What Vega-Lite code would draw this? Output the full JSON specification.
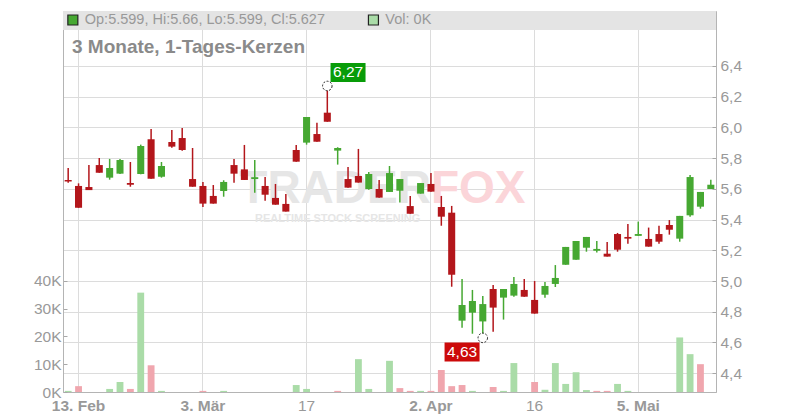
{
  "$schema": "https://vega.github.io/schema/vega-lite/v6.json",
  "width": 653,
  "height": 381,
  "autosize": {"type": "none"},
  "padding": {"left": 63, "top": 11, "right": 84, "bottom": 28},
  "background": "white",
  "config": {
    "view": {"stroke": "#c8c8c8", "strokeWidth": 1},
    "axis": {"labelFont": "Liberation Sans", "labelColor": "#999999", "labelFontSize": 15.5, "gridColor": "#dcdcdc", "gridWidth": 1, "domainColor": "#b4b4b4", "tickColor": "#a8a8a8", "labelOverlap": false, "labelBound": false},
    "text": {"font": "Liberation Sans"}
  },
  "datasets": {
    "ohlc": [
      {"date": "2025-02-12", "open": 5.658, "high": 5.736, "low": 5.640, "close": 5.648, "volume": 400},
      {"date": "2025-02-13", "open": 5.619, "high": 5.636, "low": 5.477, "close": 5.477, "volume": 2100},
      {"date": "2025-02-14", "open": 5.612, "high": 5.755, "low": 5.592, "close": 5.592, "volume": 0},
      {"date": "2025-02-17", "open": 5.755, "high": 5.801, "low": 5.705, "close": 5.705, "volume": 0},
      {"date": "2025-02-18", "open": 5.673, "high": 5.795, "low": 5.660, "close": 5.736, "volume": 1100},
      {"date": "2025-02-19", "open": 5.699, "high": 5.795, "low": 5.697, "close": 5.788, "volume": 3600},
      {"date": "2025-02-20", "open": 5.638, "high": 5.775, "low": 5.614, "close": 5.627, "volume": 1100},
      {"date": "2025-02-21", "open": 5.697, "high": 5.888, "low": 5.695, "close": 5.879, "volume": 35700},
      {"date": "2025-02-24", "open": 5.923, "high": 5.990, "low": 5.666, "close": 5.666, "volume": 9600},
      {"date": "2025-02-25", "open": 5.679, "high": 5.775, "low": 5.673, "close": 5.749, "volume": 400},
      {"date": "2025-02-26", "open": 5.905, "high": 5.983, "low": 5.868, "close": 5.875, "volume": 0},
      {"date": "2025-02-27", "open": 5.931, "high": 5.996, "low": 5.849, "close": 5.853, "volume": 0},
      {"date": "2025-02-28", "open": 5.664, "high": 5.866, "low": 5.614, "close": 5.614, "volume": 0},
      {"date": "2025-03-03", "open": 5.619, "high": 5.645, "low": 5.482, "close": 5.504, "volume": 400},
      {"date": "2025-03-04", "open": 5.554, "high": 5.625, "low": 5.504, "close": 5.504, "volume": 0},
      {"date": "2025-03-05", "open": 5.586, "high": 5.656, "low": 5.549, "close": 5.645, "volume": 400},
      {"date": "2025-03-06", "open": 5.755, "high": 5.795, "low": 5.640, "close": 5.699, "volume": 0},
      {"date": "2025-03-07", "open": 5.727, "high": 5.886, "low": 5.658, "close": 5.658, "volume": 0},
      {"date": "2025-03-10", "open": 5.664, "high": 5.788, "low": 5.575, "close": 5.676, "volume": 0},
      {"date": "2025-03-11", "open": 5.619, "high": 5.677, "low": 5.523, "close": 5.562, "volume": 0},
      {"date": "2025-03-12", "open": 5.541, "high": 5.632, "low": 5.497, "close": 5.497, "volume": 0},
      {"date": "2025-03-13", "open": 5.502, "high": 5.567, "low": 5.452, "close": 5.452, "volume": 0},
      {"date": "2025-03-14", "open": 5.853, "high": 5.886, "low": 5.777, "close": 5.777, "volume": 2500},
      {"date": "2025-03-17", "open": 5.901, "high": 6.068, "low": 5.888, "close": 6.068, "volume": 1100},
      {"date": "2025-03-18", "open": 5.957, "high": 6.031, "low": 5.907, "close": 5.907, "volume": 0},
      {"date": "2025-03-19", "open": 6.096, "high": 6.270, "low": 6.037, "close": 6.037, "volume": 0},
      {"date": "2025-03-20", "open": 5.849, "high": 5.871, "low": 5.758, "close": 5.866, "volume": 400},
      {"date": "2025-03-21", "open": 5.664, "high": 5.742, "low": 5.608, "close": 5.608, "volume": 0},
      {"date": "2025-03-24", "open": 5.684, "high": 5.860, "low": 5.641, "close": 5.641, "volume": 11800},
      {"date": "2025-03-25", "open": 5.599, "high": 5.710, "low": 5.595, "close": 5.697, "volume": 1100},
      {"date": "2025-03-26", "open": 5.599, "high": 5.658, "low": 5.543, "close": 5.543, "volume": 0},
      {"date": "2025-03-27", "open": 5.580, "high": 5.749, "low": 5.580, "close": 5.703, "volume": 11200},
      {"date": "2025-03-28", "open": 5.588, "high": 5.664, "low": 5.512, "close": 5.664, "volume": 1400},
      {"date": "2025-03-31", "open": 5.488, "high": 5.554, "low": 5.438, "close": 5.438, "volume": 400},
      {"date": "2025-04-01", "open": 5.569, "high": 5.638, "low": 5.569, "close": 5.638, "volume": 400},
      {"date": "2025-04-02", "open": 5.632, "high": 5.703, "low": 5.582, "close": 5.582, "volume": 400},
      {"date": "2025-04-03", "open": 5.482, "high": 5.554, "low": 5.360, "close": 5.419, "volume": 7900},
      {"date": "2025-04-04", "open": 5.445, "high": 5.489, "low": 4.963, "close": 5.041, "volume": 2100},
      {"date": "2025-04-07", "open": 4.742, "high": 5.013, "low": 4.696, "close": 4.844, "volume": 2500},
      {"date": "2025-04-08", "open": 4.794, "high": 4.942, "low": 4.657, "close": 4.870, "volume": 400},
      {"date": "2025-04-09", "open": 4.737, "high": 4.903, "low": 4.630, "close": 4.850, "volume": 0},
      {"date": "2025-04-10", "open": 4.948, "high": 4.974, "low": 4.670, "close": 4.827, "volume": 1800},
      {"date": "2025-04-11", "open": 4.892, "high": 4.948, "low": 4.749, "close": 4.948, "volume": 400},
      {"date": "2025-04-14", "open": 4.905, "high": 5.026, "low": 4.898, "close": 4.981, "volume": 10400},
      {"date": "2025-04-15", "open": 4.942, "high": 5.013, "low": 4.898, "close": 4.898, "volume": 0},
      {"date": "2025-04-16", "open": 4.877, "high": 5.000, "low": 4.788, "close": 4.788, "volume": 3600},
      {"date": "2025-04-17", "open": 4.911, "high": 4.994, "low": 4.892, "close": 4.968, "volume": 800},
      {"date": "2025-04-22", "open": 4.981, "high": 5.104, "low": 4.961, "close": 5.020, "volume": 10400},
      {"date": "2025-04-23", "open": 5.106, "high": 5.222, "low": 5.106, "close": 5.222, "volume": 2900},
      {"date": "2025-04-24", "open": 5.139, "high": 5.261, "low": 5.139, "close": 5.261, "volume": 7100},
      {"date": "2025-04-25", "open": 5.217, "high": 5.287, "low": 5.191, "close": 5.287, "volume": 700},
      {"date": "2025-04-28", "open": 5.197, "high": 5.261, "low": 5.185, "close": 5.209, "volume": 400},
      {"date": "2025-04-29", "open": 5.178, "high": 5.254, "low": 5.159, "close": 5.159, "volume": 400},
      {"date": "2025-04-30", "open": 5.306, "high": 5.313, "low": 5.191, "close": 5.204, "volume": 2900},
      {"date": "2025-05-02", "open": 5.287, "high": 5.371, "low": 5.243, "close": 5.276, "volume": 400},
      {"date": "2025-05-05", "open": 5.294, "high": 5.387, "low": 5.294, "close": 5.306, "volume": 0},
      {"date": "2025-05-06", "open": 5.274, "high": 5.348, "low": 5.224, "close": 5.224, "volume": 0},
      {"date": "2025-05-07", "open": 5.306, "high": 5.360, "low": 5.243, "close": 5.256, "volume": 0},
      {"date": "2025-05-08", "open": 5.365, "high": 5.397, "low": 5.302, "close": 5.334, "volume": 0},
      {"date": "2025-05-09", "open": 5.276, "high": 5.424, "low": 5.256, "close": 5.424, "volume": 19600},
      {"date": "2025-05-12", "open": 5.428, "high": 5.690, "low": 5.419, "close": 5.677, "volume": 13600},
      {"date": "2025-05-13", "open": 5.484, "high": 5.580, "low": 5.471, "close": 5.580, "volume": 10000},
      {"date": "2025-05-14", "open": 5.599, "high": 5.660, "low": 5.599, "close": 5.627, "volume": 0}
    ]
  },
  "layer": [
    {
      "data": {"name": "ohlc"},
      "transform": [{"window": [{"op": "lag", "field": "close", "as": "prev"}]}],
      "mark": {"type": "bar", "width": {"band": 0.66}},
      "encoding": {
        "x": {
          "field": "date", "type": "ordinal", "title": null,
          "scale": {"paddingInner": 0, "paddingOuter": 0},
          "axis": {
            "values": ["2025-02-13", "2025-03-03", "2025-03-17", "2025-04-02", "2025-04-16", "2025-05-05"],
            "labelExpr": "datum.value == '2025-02-13' ? '13. Feb' : datum.value == '2025-03-03' ? '3. Mär' : datum.value == '2025-03-17' ? '17' : datum.value == '2025-04-02' ? '2. Apr' : datum.value == '2025-04-16' ? '16' : '5. Mai'",
            "grid": true, "ticks": false, "labelPadding": 6, "labelAngle": 0, "labelAlign": "center", "labelBaseline": "top", "labelOverlap": false,
            "labelFontWeight": {"condition": {"test": "datum.value == '2025-03-17' || datum.value == '2025-04-16'", "value": "normal"}, "value": "bold"}
          }
        },
        "y": {
          "field": "volume", "type": "quantitative", "title": null,
          "scale": {"domain": [0, 136900], "nice": false},
          "axis": {"orient": "left", "values": [0, 10000, 20000, 30000, 40000], "tickCount": 20, "labelExpr": "format(datum.value / 1000, 'd') + 'K'", "grid": false, "tickSize": -4, "labelPadding": 6, "labelOverlap": false}
        },
        "color": {"condition": {"test": "datum.prev == null || datum.close >= datum.prev", "value": "#aadca8"}, "value": "#f0a6ae"}
      }
    },
    {
      "layer": [
        {
          "data": {"values": [{"top": 6.758, "bottom": 6.634}]},
          "mark": {"type": "rect", "color": "#e4e4e4"},
          "encoding": {
            "y": {"field": "bottom", "type": "quantitative", "title": null, "scale": {"domain": [4.2776, 6.758], "nice": false, "zero": false},
              "axis": {"orient": "right", "values": [4.4, 4.6, 4.8, 5.0, 5.2, 5.4, 5.6, 5.8, 6.0, 6.2, 6.4], "tickCount": 30, "labelExpr": "replace(format(datum.value, '.1f'), '.', ',')", "grid": true, "tickSize": -4, "labelPadding": 8, "labelOverlap": false}},
            "y2": {"field": "top"}
          }
        },
        {
          "data": {"values": [{"date": "2025-04-02", "price": 5.60, "word": "TRADER"}]},
          "mark": {"type": "text", "align": "right", "baseline": "middle", "fontSize": 46, "fontWeight": "bold", "color": "#e6e6e6"},
          "encoding": {
            "x": {"field": "date", "type": "ordinal", "title": null},
            "y": {"field": "price", "type": "quantitative", "title": null, "scale": {"domain": [4.2776, 6.758], "nice": false, "zero": false}},
            "text": {"field": "word"}
          }
        },
        {
          "data": {"values": [{"date": "2025-04-02", "price": 5.60, "word": "FOX"}]},
          "mark": {"type": "text", "align": "left", "baseline": "middle", "fontSize": 46, "fontWeight": "bold", "color": "#fbd5d9"},
          "encoding": {
            "x": {"field": "date", "type": "ordinal", "title": null},
            "y": {"field": "price", "type": "quantitative", "title": null, "scale": {"domain": [4.2776, 6.758], "nice": false, "zero": false}},
            "text": {"field": "word"}
          }
        },
        {
          "data": {"values": [{"date": "2025-03-20", "price": 5.405, "word": "REALTIME STOCK SCREENING"}]},
          "mark": {"type": "text", "align": "center", "baseline": "middle", "fontSize": 11, "fontWeight": "bold", "color": "#e6e6e6"},
          "encoding": {
            "x": {"field": "date", "type": "ordinal", "title": null},
            "y": {"field": "price", "type": "quantitative", "title": null, "scale": {"domain": [4.2776, 6.758], "nice": false, "zero": false}},
            "text": {"field": "word"}
          }
        },
        {
          "data": {"name": "ohlc"},
          "mark": {"type": "rule", "strokeWidth": 1.5},
          "encoding": {
            "x": {"field": "date", "type": "ordinal", "title": null},
            "y": {"field": "low", "type": "quantitative", "title": null, "scale": {"domain": [4.2776, 6.758], "nice": false, "zero": false}},
            "y2": {"field": "high"},
            "color": {"condition": {"test": "datum.close >= datum.open", "value": "#46a832"}, "value": "#b3161b"}
          }
        },
        {
          "data": {"name": "ohlc"},
          "mark": {"type": "bar", "width": {"band": 0.68}},
          "encoding": {
            "x": {"field": "date", "type": "ordinal", "title": null},
            "y": {"field": "open", "type": "quantitative", "title": null, "scale": {"domain": [4.2776, 6.758], "nice": false, "zero": false}},
            "y2": {"field": "close"},
            "color": {"condition": {"test": "datum.close >= datum.open", "value": "#46a832"}, "value": "#b3161b"}
          }
        },
        {
          "data": {"values": [{"date": "2025-03-19", "price": 6.27}, {"date": "2025-04-09", "price": 4.63}]},
          "mark": {"type": "point", "shape": "circle", "size": 90, "filled": false, "fill": "white", "fillOpacity": 1, "stroke": "#222222", "strokeWidth": 1, "strokeDash": [2, 1.5], "opacity": 1},
          "encoding": {
            "x": {"field": "date", "type": "ordinal", "title": null},
            "y": {"field": "price", "type": "quantitative", "title": null, "scale": {"domain": [4.2776, 6.758], "nice": false, "zero": false}}
          }
        },
        {
          "data": {"values": [{"date": "2025-03-21", "price": 6.358, "label": "6,27", "kind": "high"}, {"date": "2025-04-07", "price": 4.538, "label": "4,63", "kind": "low"}]},
          "mark": {"type": "point", "shape": "M-1,-0.54H1V0.54H-1Z", "size": 1225, "filled": true, "opacity": 1, "strokeWidth": 0},
          "encoding": {
            "x": {"field": "date", "type": "ordinal", "title": null, "bandPosition": 0.5},
            "y": {"field": "price", "type": "quantitative", "title": null, "scale": {"domain": [4.2776, 6.758], "nice": false, "zero": false}},
            "color": {"condition": {"test": "datum.kind == 'high'", "value": "#089c08"}, "value": "#cc0a0a"}
          }
        },
        {
          "data": {"values": [{"date": "2025-03-21", "price": 6.358, "label": "6,27"}, {"date": "2025-04-07", "price": 4.538, "label": "4,63"}]},
          "mark": {"type": "text", "align": "center", "baseline": "middle", "fontSize": 15.5, "color": "white"},
          "encoding": {
            "x": {"field": "date", "type": "ordinal", "title": null, "bandPosition": 0.5},
            "y": {"field": "price", "type": "quantitative", "title": null, "scale": {"domain": [4.2776, 6.758], "nice": false, "zero": false}},
            "text": {"field": "label"}
          }
        },
        {
          "data": {"values": [{"date": "2025-02-12", "price": 6.524, "label": "3 Monate, 1-Tages-Kerzen"}]},
          "mark": {"type": "text", "align": "left", "baseline": "middle", "fontSize": 19, "fontWeight": "bold", "color": "#8a8a8a"},
          "encoding": {
            "x": {"field": "date", "type": "ordinal", "title": null, "bandPosition": 0.87},
            "y": {"field": "price", "type": "quantitative", "title": null, "scale": {"domain": [4.2776, 6.758], "nice": false, "zero": false}},
            "text": {"field": "label"}
          }
        },
        {
          "data": {"values": [{"date": "2025-02-12", "price": 6.6995, "kind": "ohlc"}, {"date": "2025-03-25", "price": 6.6995, "kind": "vol"}]},
          "mark": {"type": "point", "shape": "square", "size": 100, "filled": true, "opacity": 1, "stroke": "#222222", "strokeWidth": 1.2},
          "encoding": {
            "x": {"field": "date", "type": "ordinal", "title": null, "bandPosition": 0.95},
            "y": {"field": "price", "type": "quantitative", "title": null, "scale": {"domain": [4.2776, 6.758], "nice": false, "zero": false}},
            "fill": {"condition": {"test": "datum.kind == 'ohlc'", "value": "#46a832"}, "value": "#aadca8"}
          }
        },
        {
          "data": {"values": [{"date": "2025-02-14", "price": 6.6995, "label": "Op:5.599, Hi:5.66, Lo:5.599, Cl:5.627"}, {"date": "2025-03-27", "price": 6.6995, "label": "Vol: 0K"}]},
          "mark": {"type": "text", "align": "left", "baseline": "middle", "fontSize": 14.5, "color": "#999999"},
          "encoding": {
            "x": {"field": "date", "type": "ordinal", "title": null, "bandPosition": 0.1},
            "y": {"field": "price", "type": "quantitative", "title": null, "scale": {"domain": [4.2776, 6.758], "nice": false, "zero": false}},
            "text": {"field": "label"}
          }
        }
      ]
    }
  ],
  "resolve": {"scale": {"y": "independent"}}
}
